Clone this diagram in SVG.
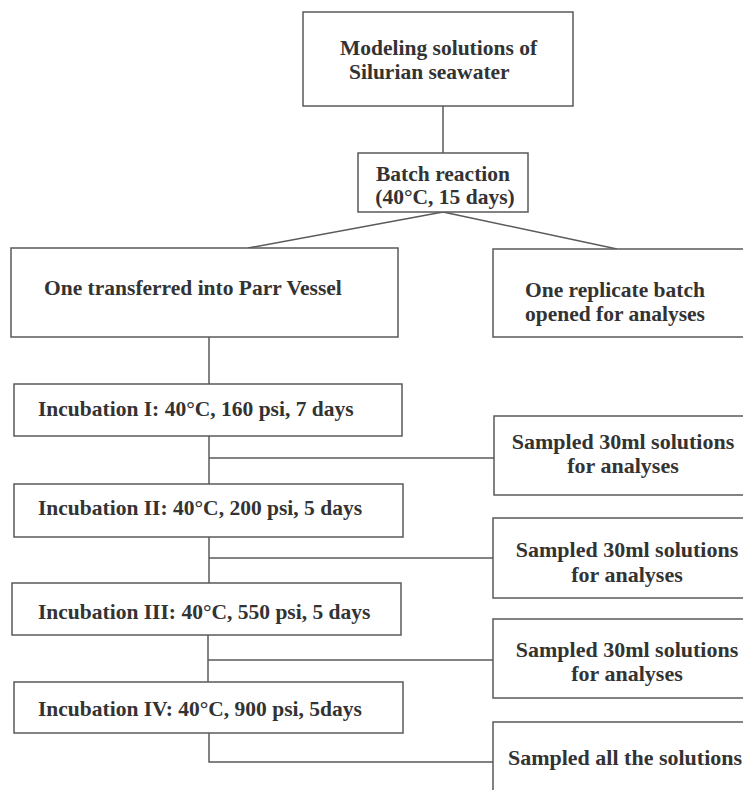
<svg xmlns="http://www.w3.org/2000/svg" width="743" height="790" viewBox="0 0 743 790">
<style>
.box{fill:#fff;stroke:#5a5a5a;stroke-width:1.5}
.t{font-family:"Liberation Serif","Times New Roman",serif;font-weight:bold;font-size:21.5px;fill:#333}
.s{font-size:22px}
.c{stroke:#5a5a5a;stroke-width:1.5;fill:none}
</style>
<rect width="743" height="790" fill="#fff"/>
<g id="connectors">
<line class="c" x1="443" y1="106" x2="443" y2="153"/>
<line class="c" x1="443" y1="212" x2="248" y2="248"/>
<line class="c" x1="443" y1="212" x2="617" y2="249"/>
<line class="c" x1="209" y1="337" x2="209" y2="384"/>
<line class="c" x1="209" y1="436" x2="209" y2="484"/>
<line class="c" x1="209" y1="458" x2="494" y2="458"/>
<line class="c" x1="209" y1="537" x2="209" y2="583"/>
<line class="c" x1="209" y1="558" x2="493" y2="558"/>
<line class="c" x1="208" y1="635" x2="208" y2="682"/>
<line class="c" x1="208" y1="660" x2="493" y2="660"/>
<polyline class="c" points="209,733 209,762 493,762"/>
</g>
<g id="modeling">
<rect class="box" x="303" y="12" width="270" height="94"/>
<text class="t" x="340" y="55">Modeling solutions of</text>
<text class="t" x="349" y="79">Silurian seawater</text>
</g>
<g id="batch">
<rect class="box" x="358" y="153" width="170" height="59"/>
<text class="t" x="443" y="181" text-anchor="middle">Batch reaction</text>
<text class="t" x="445" y="204" text-anchor="middle">(40°C, 15 days)</text>
</g>
<g id="parr">
<rect class="box" x="11" y="248" width="387" height="89"/>
<text class="t" x="44" y="295">One transferred into Parr Vessel</text>
</g>
<g id="replicate">
<rect class="box" x="493" y="249" width="260" height="88"/>
<text class="t" x="525" y="297">One replicate batch</text>
<text class="t" x="525" y="321">opened for analyses</text>
</g>
<g id="inc1">
<rect class="box" x="14" y="384" width="388" height="52"/>
<text class="t" x="38" y="416">Incubation I: 40°C, 160 psi, 7 days</text>
</g>
<g id="s1">
<rect class="box" x="494" y="416" width="260" height="79"/>
<text class="t s" x="623" y="449" text-anchor="middle">Sampled 30ml solutions</text>
<text class="t s" x="623" y="473" text-anchor="middle">for analyses</text>
</g>
<g id="inc2">
<rect class="box" x="14" y="484" width="389" height="53"/>
<text class="t" x="38" y="515">Incubation II: 40°C, 200 psi, 5 days</text>
</g>
<g id="s2">
<rect class="box" x="493" y="518" width="260" height="80"/>
<text class="t s" x="627" y="557" text-anchor="middle">Sampled 30ml solutions</text>
<text class="t s" x="627" y="582" text-anchor="middle">for analyses</text>
</g>
<g id="inc3">
<rect class="box" x="12" y="583" width="389" height="52"/>
<text class="t" x="38" y="619">Incubation III: 40°C, 550 psi, 5 days</text>
</g>
<g id="s3">
<rect class="box" x="493" y="619" width="260" height="79"/>
<text class="t s" x="627" y="657" text-anchor="middle">Sampled 30ml solutions</text>
<text class="t s" x="627" y="681" text-anchor="middle">for analyses</text>
</g>
<g id="inc4">
<rect class="box" x="14" y="682" width="389" height="51"/>
<text class="t" x="38" y="716">Incubation IV: 40°C, 900 psi, 5days</text>
</g>
<g id="s4">
<rect class="box" x="493" y="722" width="260" height="80"/>
<text class="t s" x="625" y="765" text-anchor="middle">Sampled all the solutions</text>
</g>
</svg>
